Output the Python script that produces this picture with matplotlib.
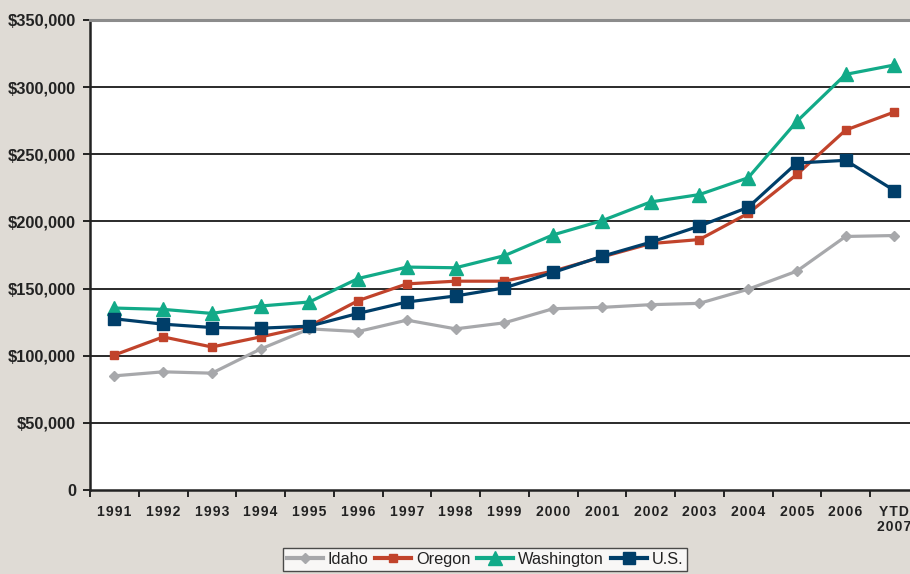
import matplotlib
matplotlib.use("Agg")
import matplotlib.pyplot as plt
from matplotlib.ticker import FixedLocator

years = ["1991", "1992", "1993", "1994", "1995", "1996", "1997", "1998", "1999",
         "2000", "2001", "2002", "2003", "2004", "2005", "2006", "YTD\n2007"]
idaho = [85000, 88000, 87000, 105000, 120000, 118000, 126500, 120000, 124500,
         135000, 136000, 138000, 139000, 149500, 163000, 188800, 189500]
oregon = [100500, 114000, 106500, 114000, 122000, 141000, 153500, 155500, 155500,
          163000, 173500, 183500, 186500, 206000, 235000, 268000, 281500]
washington = [135500, 134500, 131500, 137000, 140000, 157500, 166000, 165500, 174500,
              190000, 200500, 214500, 220000, 232500, 274500, 309500, 316500]
us = [127500, 123500, 121000, 120500, 122000, 131500, 140000, 144500, 150500,
      162000, 174000, 184500, 196500, 210500, 243500, 245500, 223000]
y_ticks = [0, 50000, 100000, 150000, 200000, 250000, 300000, 350000]
y_labels = ["0", "$50,000", "$100,000", "$150,000", "$200,000", "$250,000",
            "$300,000", "$350,000"]

plt.rcParams['font.family'] = ['Liberation Sans', 'DejaVu Sans']
bg = "#dfdbd5"
fig = plt.figure(figsize=(9.10, 5.74), dpi=100, facecolor=bg)
ax = fig.add_axes([90/910, 1-490/574, 828.75/910, 470/574])
ax.set_facecolor("white")

x = list(range(len(years)))
series = [
    ("Idaho", idaho, "#a7a8ab", "D", 5.3),
    ("Oregon", oregon, "#c1432b", "s", 5.2),
    ("Washington", washington, "#12aa88", "^", 9.5),
    ("U.S.", us, "#003e69", "s", 8.3),
]
for name, vals, col, mk, ms in series:
    ax.plot(x, vals, color=col, lw=2.3, marker=mk, markersize=ms,
            markerfacecolor=col, markeredgecolor=col, label=name, zorder=3)

ax.set_xlim(-0.5, len(years) - 0.5)
ax.set_ylim(0, 350000)

for yv in y_ticks[1:-1]:
    ax.axhline(yv, color="#2a2a2a", lw=1.4, zorder=1)

ax.set_yticks(y_ticks)
ax.set_yticklabels(y_labels, fontsize=11.8, fontweight="bold", color="#222222")
ax.tick_params(axis="y", direction="out", length=5, width=1.4, pad=5, color="#222222")

spaced = ["\n".join("\u200a".join(part) for part in y.split("\n")) for y in years]
ax.set_xticks(x)
ax.set_xticklabels(spaced, fontsize=10, fontweight="bold", color="#222222",
                   va="top", linespacing=1.05)
ax.xaxis.set_minor_locator(FixedLocator([i - 0.5 for i in range(len(years) + 1)]))
ax.tick_params(axis="x", which="major", length=0, pad=11)
ax.tick_params(axis="x", which="minor", direction="out", length=5, width=1.4, color="#222222")

for s in ["left", "bottom"]:
    ax.spines[s].set_color("#222222")
    ax.spines[s].set_linewidth(1.8)
ax.spines["right"].set_visible(False)
ax.spines["top"].set_color("#8c8c8c")
ax.spines["top"].set_linewidth(2.2)

leg = ax.legend(loc="upper center", bbox_to_anchor=(485/910, 1-548/574),
                bbox_transform=fig.transFigure, ncol=4, frameon=True,
                fontsize=11.8, handlelength=2.2, handletextpad=0.3,
                columnspacing=0.4, borderpad=0.25, fancybox=False,
                borderaxespad=0)
leg.get_frame().set_edgecolor("#222222")
leg.get_frame().set_linewidth(1.0)
for t in leg.get_texts():
    t.set_color("#222222")
for h in leg.get_lines():
    h.set_linewidth(3)

fig.savefig("out.png", dpi=100, facecolor=bg)
